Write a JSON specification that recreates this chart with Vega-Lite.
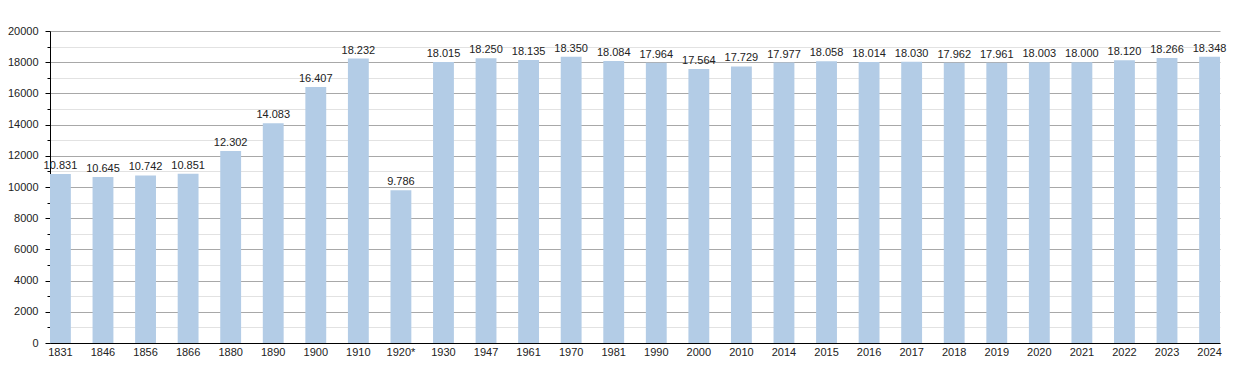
{
  "$schema": "https://vega.github.io/schema/vega-lite/v6.json",
  "width": 1170,
  "height": 312,
  "autosize": {"type": "none"},
  "padding": {"left": 50, "top": 31, "right": 30, "bottom": 30},
  "background": "white",
  "config": {
    "locale": {"number": {"decimal": ",", "thousands": ".", "grouping": [3], "currency": ["", " €"]}},
    "font": "Liberation Sans",
    "view": {"stroke": null}
  },
  "data": {"values": [
    {"year": "1831", "pop": 10831},
    {"year": "1846", "pop": 10645},
    {"year": "1856", "pop": 10742},
    {"year": "1866", "pop": 10851},
    {"year": "1880", "pop": 12302},
    {"year": "1890", "pop": 14083},
    {"year": "1900", "pop": 16407},
    {"year": "1910", "pop": 18232},
    {"year": "1920*", "pop": 9786},
    {"year": "1930", "pop": 18015},
    {"year": "1947", "pop": 18250},
    {"year": "1961", "pop": 18135},
    {"year": "1970", "pop": 18350},
    {"year": "1981", "pop": 18084},
    {"year": "1990", "pop": 17964},
    {"year": "2000", "pop": 17564},
    {"year": "2010", "pop": 17729},
    {"year": "2014", "pop": 17977},
    {"year": "2015", "pop": 18058},
    {"year": "2016", "pop": 18014},
    {"year": "2017", "pop": 18030},
    {"year": "2018", "pop": 17962},
    {"year": "2019", "pop": 17961},
    {"year": "2020", "pop": 18003},
    {"year": "2021", "pop": 18000},
    {"year": "2022", "pop": 18120},
    {"year": "2023", "pop": 18266},
    {"year": "2024", "pop": 18348}
  ]},
  "encoding": {
    "x": {
      "field": "year", "type": "nominal", "sort": null, "title": null,
      "scale": {"paddingInner": 0.51, "paddingOuter": 0},
      "axis": {"labelAngle": 0, "ticks": false, "labelPadding": 3, "labelFontSize": 11, "labelColor": "#222", "domainColor": "#000", "domainWidth": 1, "labelFont": "Liberation Sans"}
    },
    "y": {
      "field": "pop", "type": "quantitative", "title": null,
      "scale": {"domain": [0, 20000], "nice": false},
      "axis": {
        "values": [0,1000,2000,3000,4000,5000,6000,7000,8000,9000,10000,11000,12000,13000,14000,15000,16000,17000,18000,19000,20000],
        "format": "d",
        "labelExpr": "datum.value % 2000 === 0 ? datum.label : ''",
        "grid": true,
        "gridColor": {"condition": {"test": "datum.value % 2000 === 0", "value": "#a8a8a8"}, "value": "#e2e2e2"},
        "tickSize": {"condition": {"test": "datum.value % 2000 === 0", "value": 5}, "value": 3},
        "tickColor": "#000",
        "domainColor": "#000",
        "labelPadding": 7,
        "labelFontSize": 11,
        "labelColor": "#222",
        "labelFont": "Liberation Sans"
      }
    }
  },
  "layer": [
    {"mark": {"type": "bar", "color": "#b3cce6"}},
    {
      "mark": {"type": "text", "baseline": "bottom", "dy": -3, "fontSize": 11, "color": "#222", "font": "Liberation Sans"},
      "encoding": {"text": {"field": "pop", "type": "quantitative", "format": ","}}
    }
  ]
}
